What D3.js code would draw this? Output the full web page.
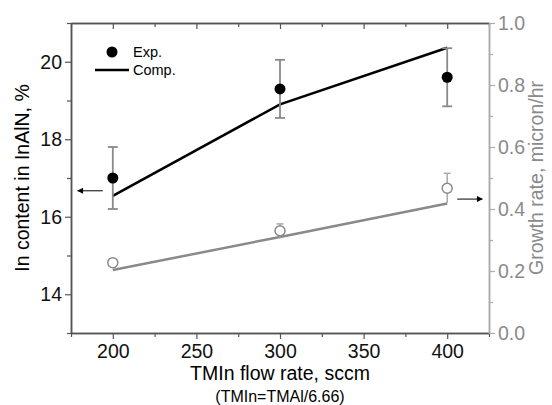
<!DOCTYPE html>
<html>
<head>
<meta charset="utf-8">
<script src="https://cdn.jsdelivr.net/npm/d3@7"></script>
<style>
  body { margin: 0; background: #fff; }
  svg text { font-family: "Liberation Sans", Arial, sans-serif; }
</style>
</head>
<body>
<div id="chart"></div>
<script>
// TMIn flow rate, sccm
const flowRates = [200, 300, 400];
// In content, % (experiment + error) and computed
const inContentExp = [17.0, 19.3, 19.6];
const inContentErr = [0.8, 0.75, 0.75];
const inContentComp = [16.54, 18.9, 20.36];
// growth rate, micron/hr
const growthExp = [0.227, 0.33, 0.467];
const growthErr = [0.01, 0.022, 0.048];
const growthComp = [0.203, 0.31, 0.418];

const xTicks = [200, 250, 300, 350, 400];
const leftTicks = [14, 16, 18, 20];
const rightTicks = [0, 0.2, 0.4, 0.6, 0.8, 1.0];

const width = 552, height = 405;
const margin = {top: 23, right: 63, bottom: 72, left: 71};
const w = width - margin.left - margin.right;
const h = height - margin.top - margin.bottom;

const axisColor = "#555";
const grey = "#8a8a8a";

const svg = d3.select("#chart").append("svg")
  .attr("width", width)
  .attr("height", height);

const g = svg.append("g")
  .attr("transform", "translate(" + margin.left + "," + margin.top + ")");

const xScale = d3.scaleLinear().domain([175, 425]).range([0, w]);
const yLeft = d3.scaleLinear().domain([13, 21]).range([h, 0]);
const yRight = d3.scaleLinear().domain([0, 1]).range([h, 0]);

function styleAxis(sel, color, labelColor) {
  sel.select(".domain").attr("stroke", color).attr("stroke-width", 1.5);
  sel.selectAll(".tick line").attr("stroke", color).attr("stroke-width", 1.2);
  sel.selectAll(".tick text")
    .attr("fill", labelColor)
    .style("font-size", "19.5px");
}

// minor ticks
const xMinor = d3.range(175, 426, 25).filter(d => !xTicks.includes(d));
const leftMinor = [13, 15, 17, 19, 21];
const rightMinor = [0.1, 0.3, 0.5, 0.7, 0.9];

g.append("g")
  .attr("transform", "translate(0," + h + ")")
  .call(d3.axisBottom(xScale).tickValues(xMinor).tickSize(4).tickFormat("").tickSizeOuter(0))
  .call(s => styleAxis(s, axisColor, "#000"));

g.append("g")
  .attr("transform", "translate(0," + h + ")")
  .call(d3.axisBottom(xScale).tickValues(xTicks).tickSize(6).tickPadding(5).tickSizeOuter(0))
  .call(s => styleAxis(s, axisColor, "#111"));

// top axis, ticks pointing inward
g.append("g")
  .call(d3.axisBottom(xScale).tickValues(xMinor).tickSize(4).tickFormat("").tickSizeOuter(0))
  .call(s => styleAxis(s, axisColor, "#000"));
g.append("g")
  .call(d3.axisBottom(xScale).tickValues(xTicks).tickSize(6).tickFormat("").tickSizeOuter(0))
  .call(s => styleAxis(s, axisColor, "#000"));

g.append("g")
  .call(d3.axisLeft(yLeft).tickValues(leftMinor).tickSize(4).tickFormat("").tickSizeOuter(0))
  .call(s => styleAxis(s, axisColor, "#000"));
g.append("g")
  .call(d3.axisLeft(yLeft).tickValues(leftTicks).tickSize(6).tickPadding(3).tickSizeOuter(0))
  .call(s => styleAxis(s, axisColor, "#111"));

g.append("g")
  .attr("transform", "translate(" + w + ",0)")
  .call(d3.axisRight(yRight).tickValues(rightMinor).tickSize(4).tickFormat("").tickSizeOuter(0))
  .call(s => styleAxis(s, "#aaa", grey));
g.append("g")
  .attr("transform", "translate(" + w + ",0)")
  .call(d3.axisRight(yRight).tickValues(rightTicks).tickSize(6).tickPadding(3)
    .tickFormat(d3.format(".1f")).tickSizeOuter(0))
  .call(s => styleAxis(s, "#aaa", grey));

// growth rate: computed line
g.append("path")
  .datum(flowRates.map((f, i) => [f, growthComp[i]]))
  .attr("fill", "none")
  .attr("stroke", grey)
  .attr("stroke-width", 2.5)
  .attr("d", d3.line().x(d => xScale(d[0])).y(d => yRight(d[1])));

// growth rate error bars
flowRates.forEach((f, i) => {
  const x = xScale(f);
  const y1 = yRight(growthExp[i] + growthErr[i]);
  const y0 = yRight(growthExp[i] - growthErr[i]);
  g.append("line").attr("x1", x).attr("x2", x).attr("y1", y1).attr("y2", y0)
    .attr("stroke", "#aaa").attr("stroke-width", 1.5);
  g.append("line").attr("x1", x - 3.5).attr("x2", x + 3.5).attr("y1", y1).attr("y2", y1)
    .attr("stroke", "#aaa").attr("stroke-width", 1.5);
});

g.selectAll(".openDot")
  .data(flowRates)
  .join("circle")
  .attr("cx", d => xScale(d))
  .attr("cy", (d, i) => yRight(growthExp[i]))
  .attr("r", 5)
  .attr("fill", "#fff")
  .attr("stroke", grey)
  .attr("stroke-width", 1.5);

// In content: computed line
g.append("path")
  .datum(flowRates.map((f, i) => [f, inContentComp[i]]))
  .attr("fill", "none")
  .attr("stroke", "#000")
  .attr("stroke-width", 2.5)
  .attr("d", d3.line().x(d => xScale(d[0])).y(d => yLeft(d[1])));

flowRates.forEach((f, i) => {
  const x = xScale(f);
  const y1 = yLeft(inContentExp[i] + inContentErr[i]);
  const y0 = yLeft(inContentExp[i] - inContentErr[i]);
  g.append("line").attr("x1", x).attr("x2", x).attr("y1", y1).attr("y2", y0)
    .attr("stroke", grey).attr("stroke-width", 1.8);
  [y1, y0].forEach(y => {
    g.append("line").attr("x1", x - 5).attr("x2", x + 5).attr("y1", y).attr("y2", y)
      .attr("stroke", grey).attr("stroke-width", 1.8);
  });
});

g.selectAll(".dot")
  .data(flowRates)
  .join("circle")
  .attr("cx", d => xScale(d))
  .attr("cy", (d, i) => yLeft(inContentExp[i]))
  .attr("r", 5.5)
  .attr("fill", "#000");

// arrows
const defs = svg.append("defs");
defs.append("marker")
  .attr("id", "arrowHead")
  .attr("viewBox", "0 0 10 10")
  .attr("refX", 9).attr("refY", 5)
  .attr("markerWidth", 7).attr("markerHeight", 6)
  .attr("markerUnits", "userSpaceOnUse")
  .attr("orient", "auto")
  .append("path").attr("d", "M0,0 L10,5 L0,10 z").attr("fill", "#000");

g.append("line")
  .attr("x1", xScale(194)).attr("x2", xScale(179))
  .attr("y1", yLeft(16.67)).attr("y2", yLeft(16.67))
  .attr("stroke", "#000").attr("stroke-width", 1)
  .attr("marker-end", "url(#arrowHead)");

g.append("line")
  .attr("x1", xScale(406)).attr("x2", xScale(421))
  .attr("y1", yRight(0.432)).attr("y2", yRight(0.432))
  .attr("stroke", "#000").attr("stroke-width", 1)
  .attr("marker-end", "url(#arrowHead)");

// legend
const legend = g.append("g").attr("transform", "translate(41,29)");
legend.append("circle").attr("cx", 0).attr("cy", 0).attr("r", 5.5).attr("fill", "#000");
legend.append("text").attr("x", 21).attr("y", 5).text("Exp.").style("font-size", "14.5px");
legend.append("line").attr("x1", -17).attr("x2", 17).attr("y1", 18).attr("y2", 18)
  .attr("stroke", "#000").attr("stroke-width", 2.5);
legend.append("text").attr("x", 21).attr("y", 23).text("Comp.").style("font-size", "14.5px");

// axis titles
svg.append("text")
  .attr("x", margin.left + w / 2)
  .attr("y", 380)
  .attr("text-anchor", "middle")
  .style("font-size", "19.5px")
  .text("TMIn flow rate, sccm");

svg.append("text")
  .attr("x", margin.left + w / 2)
  .attr("y", 402)
  .attr("text-anchor", "middle")
  .style("font-size", "16px")
  .text("(TMIn=TMAl/6.66)");

svg.append("text")
  .attr("transform", "translate(29," + (margin.top + h / 2) + ") rotate(-90)")
  .attr("text-anchor", "middle")
  .style("font-size", "19.5px")
  .text("In content in InAlN, %");

svg.append("text")
  .attr("transform", "translate(543," + (margin.top + h / 2) + ") rotate(-90)")
  .attr("text-anchor", "middle")
  .attr("fill", grey)
  .style("font-size", "19.5px")
  .text("Growth rate, micron/hr");
</script>
</body>
</html>
